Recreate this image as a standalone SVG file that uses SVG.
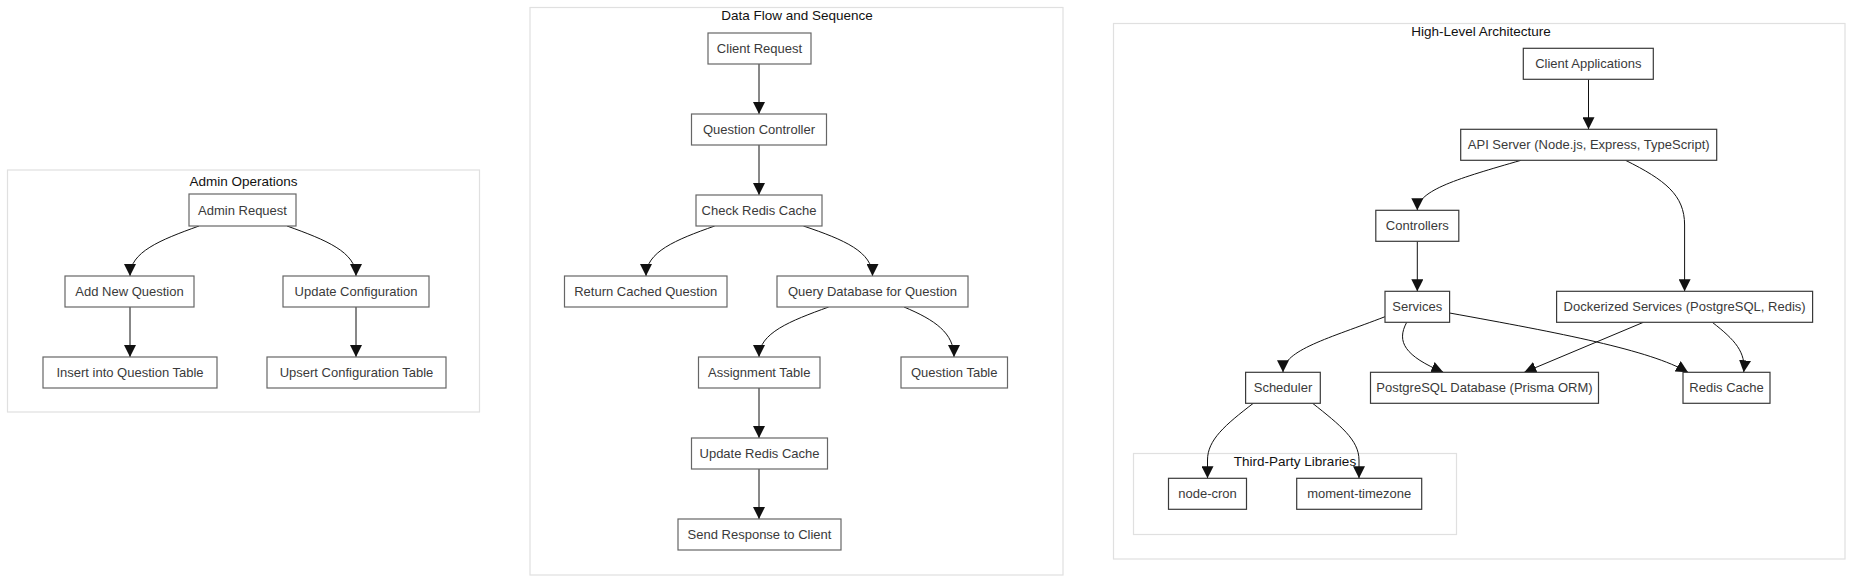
<svg xmlns="http://www.w3.org/2000/svg" width="1856" height="583" viewBox="0 0 1856 583">
<style>
.cl{fill:#fff;stroke:#e0e0e0;stroke-width:1.2}
.ct{font-family:"Liberation Sans",Arial,sans-serif;font-size:13.5px;fill:#111;text-anchor:middle}
.nd rect{fill:#fff;stroke:#666;stroke-width:1.2}
.ar .nd rect{stroke:#3a3a3a}
.nd text{font-family:"Liberation Sans",Arial,sans-serif;font-size:13px;fill:#3a3a3a;text-anchor:middle;dominant-baseline:central}
.ed path{fill:none;stroke:#111;stroke-width:1;marker-end:url(#ah)}
</style>
<defs>
<marker id="ah" viewBox="0 0 12 12" refX="12" refY="6" markerWidth="12" markerHeight="12" markerUnits="userSpaceOnUse" orient="auto">
<path d="M0,0 L12,6 L0,12 z" fill="#111"/>
</marker>
</defs>
<rect width="1856" height="583" fill="#fff"/>

<!-- Admin Operations -->
<g id="cluster-admin">
<rect class="cl" x="7.5" y="170" width="472" height="242"/>
<text class="ct" x="243.5" y="186">Admin Operations</text>
</g>
<g id="edges-admin" class="ed">
<path d="M199,226 C160,240 130,252 130,276"/>
<path d="M287,226 C326,240 356,252 356,276"/>
<path d="M130,307 L130,357"/>
<path d="M356,307 L356,357"/>
</g>
<g id="admin-request" class="nd"><rect x="189" y="194" width="107" height="32"/><text x="242.5" y="210">Admin Request</text></g>
<g id="add-new-question" class="nd"><rect x="65" y="276" width="129" height="31"/><text x="129.5" y="291.5">Add New Question</text></g>
<g id="update-configuration" class="nd"><rect x="283" y="276" width="146" height="31"/><text x="356" y="291.5">Update Configuration</text></g>
<g id="insert-question-table" class="nd"><rect x="43" y="357" width="174" height="31"/><text x="130" y="372.5">Insert into Question Table</text></g>
<g id="upsert-configuration-table" class="nd"><rect x="267" y="357" width="179" height="31"/><text x="356.5" y="372.5">Upsert Configuration Table</text></g>

<!-- Data Flow and Sequence -->
<g id="cluster-dataflow">
<rect class="cl" x="530" y="7.5" width="533" height="567.5"/>
<text class="ct" x="797" y="20">Data Flow and Sequence</text>
</g>
<g id="edges-dataflow" class="ed">
<path d="M759,64 L759,114"/>
<path d="M759,145 L759,195"/>
<path d="M714.7,226 C675,240 646,252 646,276"/>
<path d="M803.4,226 C845,240 872.5,252 872.5,276"/>
<path d="M828.7,307 C790,321 759,333 759,357"/>
<path d="M904,307 C935,320 954,333 954,357"/>
<path d="M759,388 L759,438"/>
<path d="M759,469 L759,519"/>
</g>
<g id="client-request" class="nd"><rect x="708" y="33" width="103" height="31"/><text x="759.5" y="48.5">Client Request</text></g>
<g id="question-controller" class="nd"><rect x="691.5" y="114" width="135" height="31"/><text x="759" y="129.5">Question Controller</text></g>
<g id="check-redis-cache" class="nd"><rect x="696" y="195" width="126" height="31"/><text x="759" y="210.5">Check Redis Cache</text></g>
<g id="return-cached-question" class="nd"><rect x="564.5" y="276" width="162.5" height="31"/><text x="645.75" y="291.5">Return Cached Question</text></g>
<g id="query-database" class="nd"><rect x="777" y="276" width="191" height="31"/><text x="872.5" y="291.5">Query Database for Question</text></g>
<g id="assignment-table" class="nd"><rect x="698.5" y="357" width="121.5" height="31"/><text x="759.25" y="372.5">Assignment Table</text></g>
<g id="question-table" class="nd"><rect x="901" y="357" width="106.5" height="31"/><text x="954.25" y="372.5">Question Table</text></g>
<g id="update-redis-cache" class="nd"><rect x="691.5" y="438" width="136" height="31"/><text x="759.5" y="453.5">Update Redis Cache</text></g>
<g id="send-response" class="nd"><rect x="678" y="519" width="163" height="31"/><text x="759.5" y="534.5">Send Response to Client</text></g>

<!-- High-Level Architecture -->
<g class="ar">
<g id="cluster-architecture">
<rect class="cl" x="1113.5" y="23.5" width="731.5" height="535.5"/>
<text class="ct" x="1481" y="36">High-Level Architecture</text>
</g>
<g id="cluster-third-party">
<rect class="cl" x="1133.5" y="453.5" width="323" height="81"/>
<text class="ct" x="1295" y="466">Third-Party Libraries</text>
</g>
<g id="edges-architecture" class="ed">
<path d="M1588.5,79.3 L1588.5,129.3"/>
<path d="M1521,160.3 C1460,178 1417.3,190 1417.3,210.3"/>
<path d="M1625.5,160.3 C1665,180 1684.6,195 1684.6,225 L1684.6,291.3"/>
<path d="M1417.3,241.3 L1417.3,291.3"/>
<path d="M1385,316.7 C1330,338 1283,350 1283,372.3"/>
<path d="M1406.7,322.3 C1396,342 1405,356 1443.3,372.3"/>
<path d="M1449.6,313 C1560,333 1650,350 1688,372.3"/>
<path d="M1643.4,322.3 L1524.3,372.3"/>
<path d="M1712.3,322.3 C1735,340 1746,352 1743.7,372.3"/>
<path d="M1253.3,403.3 C1225,425 1207.5,440 1207.5,460 L1207.5,478.3"/>
<path d="M1312.6,403.3 C1340,425 1359,440 1359,460 L1359,478.3"/>
</g>
<g id="client-applications" class="nd"><rect x="1523.3" y="48.3" width="130" height="31"/><text x="1588.3" y="63.8">Client Applications</text></g>
<g id="api-server" class="nd"><rect x="1460.7" y="129.3" width="256" height="31"/><text x="1588.7" y="144.8">API Server (Node.js, Express, TypeScript)</text></g>
<g id="controllers" class="nd"><rect x="1375.8" y="210.3" width="83" height="31"/><text x="1417.3" y="225.8">Controllers</text></g>
<g id="services" class="nd"><rect x="1385" y="291.3" width="64.6" height="31"/><text x="1417.3" y="306.8">Services</text></g>
<g id="dockerized-services" class="nd"><rect x="1556.6" y="291.3" width="256" height="31"/><text x="1684.6" y="306.8">Dockerized Services (PostgreSQL, Redis)</text></g>
<g id="scheduler" class="nd"><rect x="1245.6" y="372.3" width="74.7" height="31"/><text x="1283" y="387.8">Scheduler</text></g>
<g id="postgresql-database" class="nd"><rect x="1370.5" y="372.3" width="228" height="31"/><text x="1484.5" y="387.8">PostgreSQL Database (Prisma ORM)</text></g>
<g id="redis-cache" class="nd"><rect x="1683" y="372.3" width="87" height="31"/><text x="1726.5" y="387.8">Redis Cache</text></g>
<g id="node-cron" class="nd"><rect x="1168.5" y="478.3" width="78" height="31"/><text x="1207.5" y="493.8">node-cron</text></g>
<g id="moment-timezone" class="nd"><rect x="1296.7" y="478.3" width="125" height="31"/><text x="1359.2" y="493.8">moment-timezone</text></g>
</g>
</svg>
